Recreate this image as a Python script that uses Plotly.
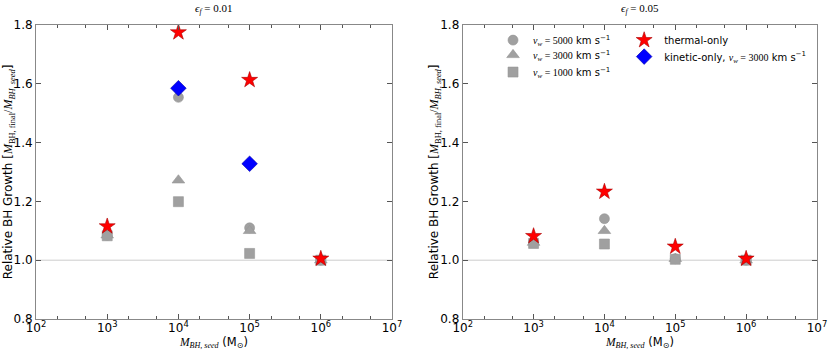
import plotly.graph_objects as go

# seed masses (Msun)
mass = [1e3, 1e4, 1e5, 1e6]

# eps_f = 0.01
v5000_a = [1.085, 1.554, 1.110, 1.000]
v3000_a = [1.085, 1.272, 1.100, 1.000]
v1000_a = [1.083, 1.199, 1.023, 1.000]
thermal_a = [1.115, 1.775, 1.613, 1.005]
kinetic_a = [None, 1.585, 1.328, None]

# eps_f = 0.05
v5000_b = [1.060, 1.141, 1.005, 1.000]
v3000_b = [1.060, 1.100, 1.005, 1.000]
v1000_b = [1.057, 1.055, 1.003, 1.000]
thermal_b = [1.082, 1.233, 1.046, 1.005]

xtick_vals = [1e2, 1e3, 1e4, 1e5, 1e6, 1e7]
xtick_text = ["10<sup>%d</sup>" % k for k in range(2, 8)]
ytick_vals = [0.8, 1.0, 1.2, 1.4, 1.6, 1.8]

SERIF = "Liberation Serif"
SANS = "DejaVu Sans"
GRAY = "#a0a0a0"


def ser(s):
    return '<span style="font-family:%s">%s</span>' % (SERIF, s)


def vw_label(v):
    return ser("<i>v<sub>w</sub></i> = %d") % v + " km s<sup>−1</sup>"


fig = go.Figure()

# each legend row gets its own legend box so rows can sit close like the original
series = [
    ("circle", 10, v5000_a, v5000_b, vw_label(5000), "legend"),
    ("triangle-up", 11, v3000_a, v3000_b, vw_label(3000), "legend2"),
    ("square", 10, v1000_a, v1000_b, vw_label(1000), "legend3"),
]

for sym, size, ya, yb, name, leg in series:
    mk = dict(symbol=sym, size=size, color=GRAY, line=dict(color="#959595", width=0.6))
    fig.add_trace(go.Scatter(x=mass, y=ya, mode="markers", name=name, showlegend=False,
                             marker=mk, xaxis="x", yaxis="y"))
    fig.add_trace(go.Scatter(x=mass, y=yb, mode="markers", name=name, legend=leg,
                             marker=mk, xaxis="x2", yaxis="y2"))

star = dict(symbol="star", size=12, color="#ff0000", line=dict(color="#aa0000", width=0.6))
fig.add_trace(go.Scatter(x=mass, y=thermal_a, mode="markers", name="thermal-only", showlegend=False,
                         marker=star, xaxis="x", yaxis="y"))
fig.add_trace(go.Scatter(x=mass, y=thermal_b, mode="markers", name="thermal-only", legend="legend4",
                         marker=star, xaxis="x2", yaxis="y2"))
fig.add_trace(go.Scatter(x=mass, y=kinetic_a, mode="markers",
                         name="kinetic-only, " + ser("<i>v<sub>w</sub></i> = 3000") + " km s<sup>−1</sup>",
                         legend="legend5",
                         marker=dict(symbol="diamond", size=12, color="#0000ff", line=dict(color="#0000aa", width=0.6)),
                         xaxis="x", yaxis="y"))

xax = dict(type="log", range=[2, 7], tickvals=xtick_vals, ticktext=xtick_text, automargin=False,
           ticks="inside", ticklen=5, tickcolor="#555", mirror="allticks", ticklabelstandoff=-2,
           showline=True, linecolor="#888", linewidth=1, showgrid=False, zeroline=False,
           minor=dict(ticks="inside", ticklen=3, tickcolor="#555", showgrid=False),
           tickfont=dict(family=SANS, size=12, color="#000"))
yax = dict(range=[0.8, 1.8], tickvals=ytick_vals, tickformat=".1f", automargin=False,
           ticks="inside", ticklen=5, tickcolor="#555", mirror="allticks",
           showline=True, linecolor="#888", linewidth=1, showgrid=False, zeroline=False,
           tickfont=dict(family=SANS, size=12, color="#000"))

xtitle = ser("<i>M<sub>BH, seed</sub></i>") + " (M<sub>⊙</sub>)"
ytitle = "Relative BH Growth [" + ser("<i>M</i><sub>BH, final</sub>/<i>M</i><sub><i>BH, seed</i></sub>") + "]"


def leg(x, y):
    return dict(x=x, y=y, xanchor="left", yanchor="top", bgcolor="rgba(0,0,0,0)",
                font=dict(family=SANS, size=10), tracegroupgap=0, itemwidth=30)


annotations = []
for xc, yc, eps in [(0.2578, 0.0112, "0.01"), (0.7709, 0.5243, "0.05")]:
    annotations.append(dict(text=ser("<i>ϵ<sub>f</sub></i> = " + eps), x=xc, y=1.0, xref="paper", yref="paper",
                            xanchor="center", yanchor="top", showarrow=False, font=dict(size=11)))
    annotations.append(dict(text=xtitle, x=xc, y=0.0, xref="paper", yref="paper", yshift=-1,
                            xanchor="center", yanchor="bottom", showarrow=False, font=dict(size=11.5)))
    annotations.append(dict(text=ytitle, x=yc, y=0.51, xref="paper", yref="paper", textangle=-90,
                            xanchor="center", yanchor="middle", showarrow=False, font=dict(size=12)))

fig.update_layout(
    width=830, height=351,
    margin=dict(l=0, r=0, t=0, b=0, autoexpand=False),
    paper_bgcolor="white", plot_bgcolor="white",
    font=dict(family=SANS, size=12, color="#000"),
    xaxis=dict(xax, domain=[0.0434, 0.4723], anchor="y"),
    yaxis=dict(yax, domain=[0.0912, 0.9288], anchor="x"),
    xaxis2=dict(xax, domain=[0.5575, 0.9843], anchor="y2"),
    yaxis2=dict(yax, domain=[0.0912, 0.9288], anchor="x2"),
    legend=leg(0.594, 0.927),
    legend2=leg(0.594, 0.885),
    legend3=leg(0.594, 0.836),
    legend4=leg(0.752, 0.927),
    legend5=leg(0.752, 0.880),
    annotations=annotations,
    shapes=[
        dict(type="line", xref="x domain", yref="y", x0=0, x1=1, y0=1.0, y1=1.0,
             line=dict(color="#cccccc", width=1), layer="below"),
        dict(type="line", xref="x2 domain", yref="y2", x0=0, x1=1, y0=1.0, y1=1.0,
             line=dict(color="#cccccc", width=1), layer="below"),
    ],
)

fig.write_html("out.html", config={"displayModeBar": False},
               post_script="document.body.style.margin='0';")
